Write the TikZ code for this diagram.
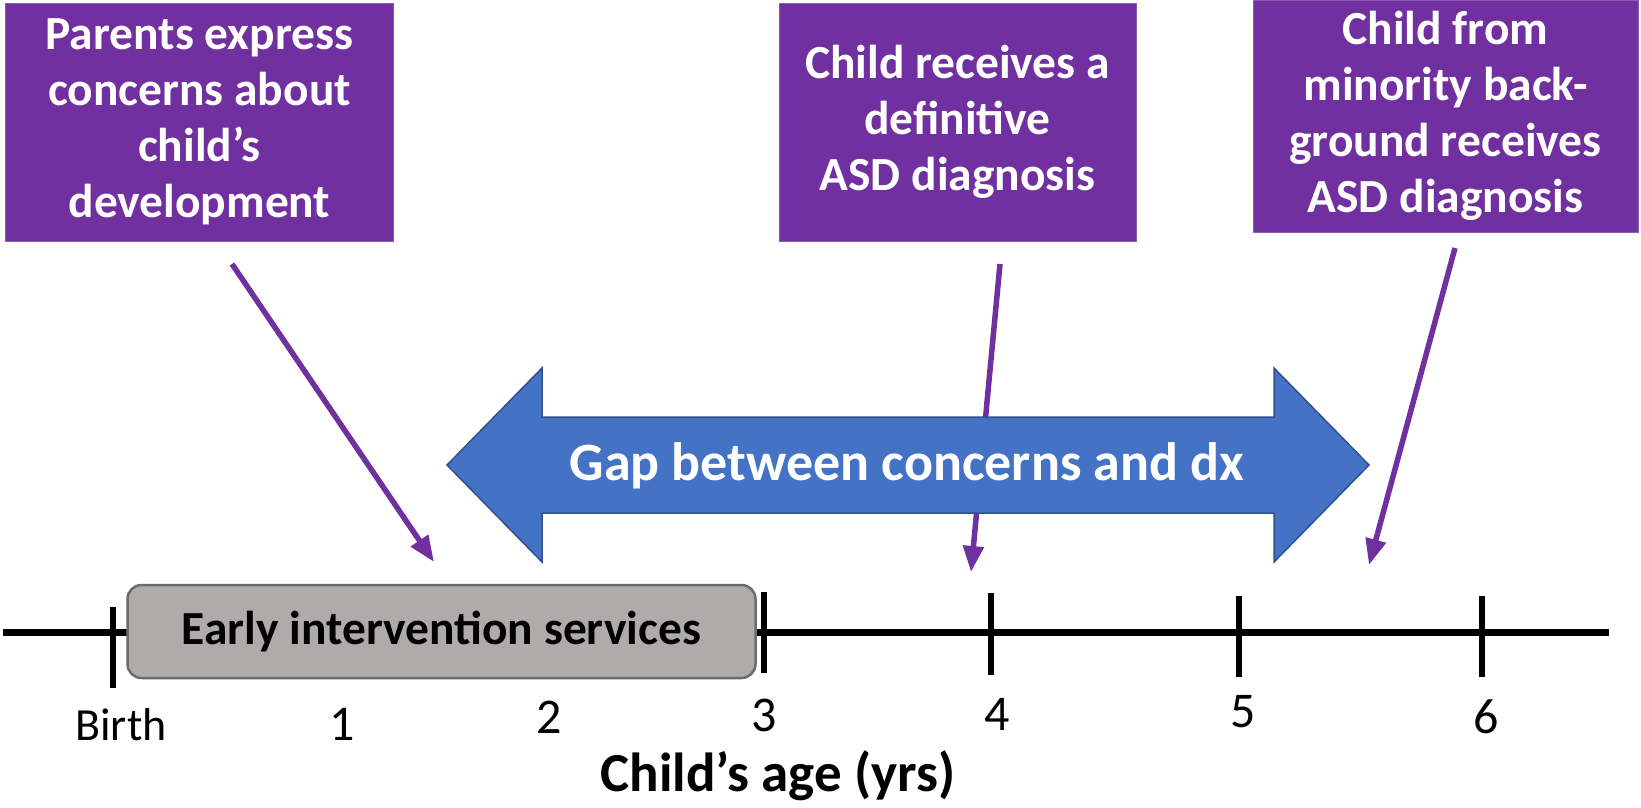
\documentclass[tikz,border=0pt]{standalone}
\usepackage{fontspec}
\setmainfont{Carlito}
\usetikzlibrary{arrows.meta}
\definecolor{boxpurple}{HTML}{7030A0}
\definecolor{gapblue}{HTML}{4472C4}
\definecolor{gapborder}{HTML}{2F528F}
\definecolor{eifill}{HTML}{AFABAB}
\definecolor{eiborder}{HTML}{6E6A6A}
\tikzset{
  evbox/.style={fill=boxpurple, draw=boxpurple!80!white, line width=1pt, text=white, align=center,
    font=\bfseries\fontsize{47.5}{56}\selectfont, inner sep=0pt},
  pointer/.style={draw=boxpurple, line width=5.5pt, -{Triangle[length=26pt,width=20pt]}},
  axisline/.style={line width=7pt, black},
  tickmark/.style={line width=6pt, black},
  agelabel/.style={font=\fontsize{46}{52}\selectfont, text=black, inner sep=0pt},
  digitlabel/.style={font=\fontsize{50}{56}\selectfont, text=black, inner sep=0pt},
}
\begin{document}
\begin{tikzpicture}[x=1pt,y=-1pt]
\useasboundingbox (0,0) rectangle (1641,807);
% event boxes
\node[evbox, minimum width=388pt, minimum height=238pt] (b1) at (199.5,122) {Parents express\\concerns about\\child’s\\development};
\node[evbox, minimum width=357pt, minimum height=238pt] (b2) at (957.5,122) {Child receives a\\definitive\\ASD diagnosis};
\node[evbox, minimum width=385pt, minimum height=232pt] (b3) at (1445.5,116) {Child from\\minority back-\\ground receives\\ASD diagnosis};
% pointer coordinates
\coordinate (s1) at (232,264);
\coordinate (e1) at (434,562);
\coordinate (s2) at (1000,264);
\coordinate (e2) at (971,572);
\coordinate (s3) at (1455,248);
\coordinate (e3) at (1369,565);
\draw[pointer] (s1) -- (e1);
\draw[pointer] (s2) -- (e2);
\draw[pointer] (s3) -- (e3);
% gap double arrow
\draw[fill=gapblue, draw=gapborder, line width=1.5pt]
  (447,465) -- (542,368) -- (542,417) -- (1274,417) -- (1274,368) -- (1369,465)
  -- (1274,562) -- (1274,513) -- (542,513) -- (542,562) -- cycle;
\node[text=white, font=\bfseries\fontsize{54}{60}\selectfont, inner sep=0pt] (gap) at (907,466) {Gap between concerns and dx};
% timeline
\coordinate (L0) at (3,632);
\coordinate (L1) at (1609,632);
\draw[axisline] (L0) -- (L1);
\draw[tickmark] (113,607) -- (113,688);
\draw[tickmark] (764,592) -- (764,673);
\draw[tickmark] (991,593) -- (991,675);
\draw[tickmark] (1239,596) -- (1239,677);
\draw[tickmark] (1482,596) -- (1482,677);
% early intervention box
\node[draw=eiborder, fill=eifill, line width=2.5pt, rounded corners=14pt, minimum width=628pt, minimum height=93pt,
  font=\bfseries\fontsize{47.5}{52}\selectfont, inner sep=0pt] (ei) at (441.5,631.5) {Early intervention services};
% labels
\node[agelabel] (lb) at (121,725) {Birth};
\node[digitlabel] (l1) at (342,724) {1};
\node[digitlabel] (l2) at (549,717) {2};
\node[digitlabel] (l3) at (764,715) {3};
\node[digitlabel] (l4) at (997,714) {4};
\node[digitlabel] (l5) at (1243,712) {5};
\node[digitlabel] (l6) at (1486,717) {6};
\node[font=\bfseries\fontsize{55}{60}\selectfont, inner sep=0pt] (axt) at (778,776) {Child’s age (yrs)};
\end{tikzpicture}
\end{document}
